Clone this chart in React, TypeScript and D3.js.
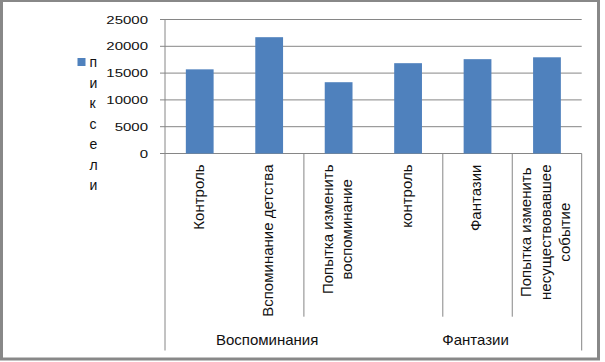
import React, { useEffect, useRef } from "react"
import * as d3 from "d3"

// chart data
const categoryLines = [
  ["Контроль"],
  ["Вспоминание детства"],
  ["Попытка изменить", "воспоминание"],
  ["контроль"],
  ["Фантазии"],
  ["Попытка изменить", "несуществовавшее", "событие"],
]
const groups = ["Воспоминания", "Фантазии"]
const groupOfCategory = [0, 0, 0, 1, 1, 1]
const values = [15700, 21700, 13300, 16850, 17600, 17950]
const yTicks = [0, 5000, 10000, 15000, 20000, 25000]
const seriesName = "пиксели"
// category boundaries that get a short tick line under the axis
const boundaryTicks = [2, 4, 5]

const W = 605
const H = 362
const FONT = "'Liberation Sans', Arial, sans-serif"
const GRID = "#868686"
const BAR = "#4F81BD"
const TEXT = "#111"

const App = () => {
  const ref = useRef<SVGSVGElement>(null)

  useEffect(() => {
    const svg = d3.select(ref.current)
    svg.selectAll("*").remove()

    const left = 165
    const right = 581.7
    const top = 19.5
    const bottom = 153.5
    const tickBottom = 316.7
    const axisBottom = 350.5

    const idx = categoryLines.map((_, i) => i)
    const x = d3
      .scaleBand<number>()
      .domain(idx)
      .range([left, right])
      .paddingInner(0.6)
      .paddingOuter(0.3)
    const step = x.step()
    const y = d3.scaleLinear().domain([0, 25000]).range([bottom, top])

    // outer border
    svg
      .append("rect")
      .attr("x", 1.5)
      .attr("y", 0.5)
      .attr("width", 597)
      .attr("height", 358.5)
      .attr("fill", "#fff")
      .attr("stroke", "#888")
      .attr("stroke-width", 3)

    // gridlines + y tick marks
    svg
      .append("g")
      .selectAll("line")
      .data(yTicks)
      .join("line")
      .attr("x1", left - 5)
      .attr("x2", right)
      .attr("y1", (d) => y(d))
      .attr("y2", (d) => y(d))
      .attr("stroke", GRID)
      .attr("stroke-width", 1)

    // y tick labels (text in the source is squashed vertically)
    svg
      .append("g")
      .selectAll("text")
      .data(yTicks)
      .join("text")
      .attr("transform", (d) => `translate(148,${y(d)}) scale(1,0.78)`)
      .attr("text-anchor", "end")
      .attr("dy", "0.35em")
      .attr("font-family", FONT)
      .attr("font-size", 15)
      .attr("fill", TEXT)
      .text((d) => d)

    // vertical axis line and category boundary lines
    const start = x.range()[0]
    const bx = (i: number) => start + i * step
    svg
      .append("line")
      .attr("x1", left)
      .attr("x2", left)
      .attr("y1", top)
      .attr("y2", axisBottom)
      .attr("stroke", GRID)
    svg
      .append("line")
      .attr("x1", right)
      .attr("x2", right)
      .attr("y1", bottom)
      .attr("y2", axisBottom)
      .attr("stroke", GRID)
    svg
      .append("g")
      .selectAll("line")
      .data(boundaryTicks)
      .join("line")
      .attr("x1", (d) => bx(d))
      .attr("x2", (d) => bx(d))
      .attr("y1", bottom)
      .attr("y2", tickBottom)
      .attr("stroke", GRID)

    // bars
    svg
      .append("g")
      .selectAll("rect")
      .data(values)
      .join("rect")
      .attr("x", (_, i) => x(i)!)
      .attr("width", x.bandwidth())
      .attr("y", (d) => y(d))
      .attr("height", (d) => y(0) - y(d))
      .attr("fill", BAR)

    // category labels, rotated
    categoryLines.forEach((lines, i) => {
      const cx = x(i)! + x.bandwidth() / 2
      const g = svg.append("g")
      const texts = lines.map((line) =>
        g
          .append("text")
          .attr("font-family", FONT)
          .attr("font-size", 15)
          .attr("fill", TEXT)
          .attr("text-anchor", "middle")
          .attr("dominant-baseline", "middle")
          .text(line)
      )
      const lens = texts.map((t) => (t.node() as SVGTextElement).getComputedTextLength())
      const maxLen = d3.max(lens) || 0
      const lh = 19.5
      texts.forEach((t, j) => {
        const lx = cx + (j - (lines.length - 1) / 2) * lh
        t.attr("transform", `translate(${lx},${164.5 + maxLen / 2}) rotate(-90)`)
      })
    })

    // group labels
    svg
      .append("g")
      .selectAll("text")
      .data(groups)
      .join("text")
      .attr("x", (_, gi) => {
        const members = idx.filter((i) => groupOfCategory[i] === gi)
        const a = bx(members[0])
        const b = bx(members[members.length - 1] + 1)
        return (a + b) / 2 - 2
      })
      .attr("y", 345)
      .attr("text-anchor", "middle")
      .attr("font-family", FONT)
      .attr("font-size", 15)
      .attr("fill", TEXT)
      .text((d) => d)

    // legend
    const legend = svg.append("g")
    legend
      .append("rect")
      .attr("x", 77.5)
      .attr("y", 58)
      .attr("width", 8)
      .attr("height", 8)
      .attr("fill", BAR)
    legend
      .selectAll("text")
      .data(Array.from(seriesName))
      .join("text")
      .attr("x", 89.5)
      .attr("y", (_, i) => 67 + i * 20.5)
      .attr("font-family", FONT)
      .attr("font-size", 14)
      .attr("fill", TEXT)
      .text((d) => d)
  }, [])

  return (
    <svg
      ref={ref}
      width={W}
      height={H}
      style={{ position: "absolute", left: 0, top: 0, display: "block", background: "#fff" }}
    />
  )
}

export default App
